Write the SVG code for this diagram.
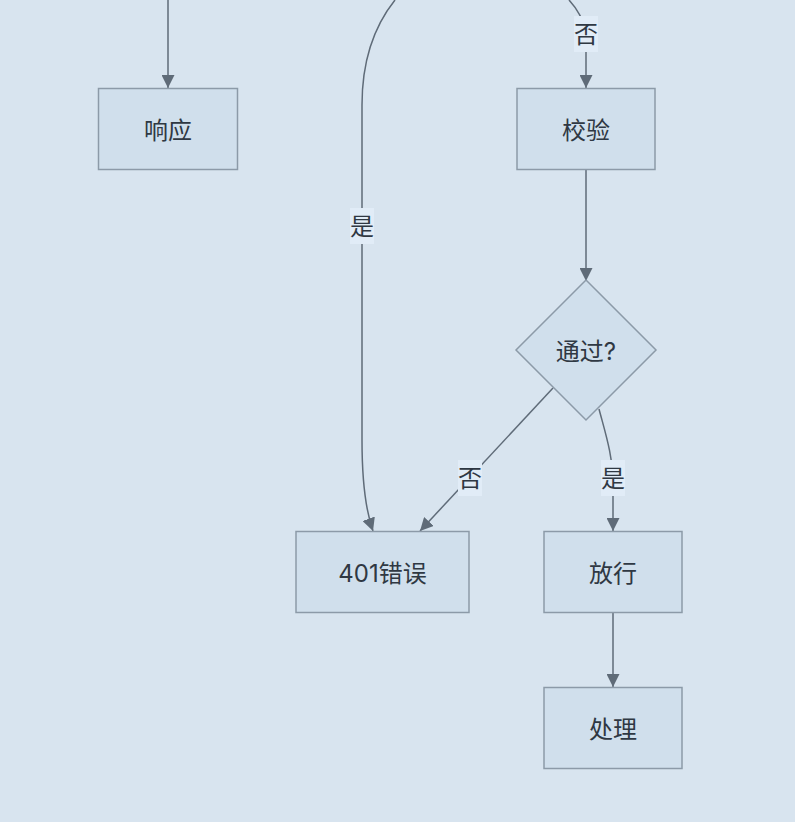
<svg xmlns="http://www.w3.org/2000/svg" width="795" height="822" viewBox="0 0 795 822">
<defs>
<style>
.node rect,.node polygon{fill:#d0dfec;stroke:#8c9aa8;stroke-width:1.5}
.t{font-family:"Inter","Noto Sans CJK SC",sans-serif;font-size:24px;fill:#2f3843;text-anchor:middle;dominant-baseline:central}
.e{fill:none;stroke:#5f6b78;stroke-width:1.5}
.lb{fill:#e1ecf7}
</style>
<marker id="ah" markerUnits="userSpaceOnUse" markerWidth="13" markerHeight="13" viewBox="0 0 12 12" refX="12" refY="6" orient="auto">
<path d="M0,0 L12,6 L0,12 z" fill="#5f6b78"/>
</marker>
</defs>
<rect width="795" height="822" fill="#d8e4ef"/>
<g id="connectors">
<path class="e" d="M168,0 L168,88" marker-end="url(#ah)"/>
<path class="e" d="M395,0 C375,25 362,60 362,105 L362,440 Q362,500 373,531" marker-end="url(#ah)"/>
<path class="e" d="M569,0 Q582,14 586,32 L586,88" marker-end="url(#ah)"/>
<path class="e" d="M586,169 L586,281" marker-end="url(#ah)"/>
<path class="e" d="M553,388 L420,531" marker-end="url(#ah)"/>
<path class="e" d="M599,409 C605,432 613,455 613,485 L613,531" marker-end="url(#ah)"/>
<path class="e" d="M613,612 L613,687" marker-end="url(#ah)"/>
<rect class="lb" x="350" y="208" width="24" height="36"/>
<text class="t" x="362" y="226">是</text>
<rect class="lb" x="574" y="16" width="24" height="36"/>
<text class="t" x="586" y="34">否</text>
<rect class="lb" x="458" y="460" width="24" height="36"/>
<text class="t" x="470" y="478">否</text>
<rect class="lb" x="601" y="460" width="24" height="36"/>
<text class="t" x="613" y="478">是</text>
</g>
<g id="n-response" class="node">
<rect x="98.5" y="88.5" width="139" height="81"/>
<text class="t" x="168" y="130">响应</text>
</g>
<g id="n-verify" class="node">
<rect x="517" y="88.5" width="138" height="81"/>
<text class="t" x="586" y="130">校验</text>
</g>
<g id="n-pass" class="node">
<polygon points="586,280 656,350 586,420 516,350"/>
<text class="t" x="586" y="351">通过?</text>
</g>
<g id="n-401" class="node">
<rect x="296" y="531.5" width="173" height="81"/>
<text class="t" x="382.5" y="573">401错误</text>
</g>
<g id="n-allow" class="node">
<rect x="544" y="531.5" width="138" height="81"/>
<text class="t" x="613" y="573">放行</text>
</g>
<g id="n-handle" class="node">
<rect x="544" y="687.5" width="138" height="81"/>
<text class="t" x="613" y="729">处理</text>
</g>
</svg>
